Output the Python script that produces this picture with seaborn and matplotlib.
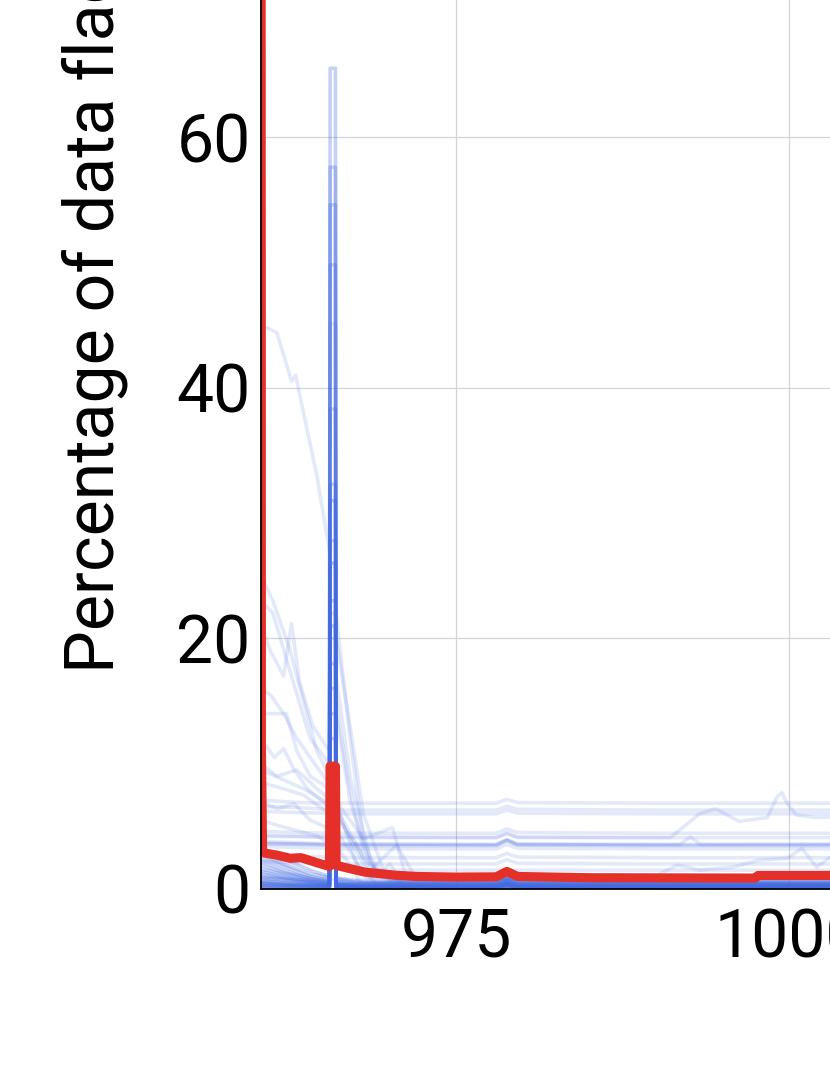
import matplotlib
matplotlib.use("Agg")
import matplotlib.pyplot as plt
import pandas as pd
import seaborn as sns

# ---------------- data ----------------
# wavelength knots shared by the nearly flat series
flat_x = [960.3, 963.0, 965.45, 965.95, 978.0, 978.8, 979.6, 990.0, 1005.0]
flat_a = [7.1, 6.9, 6.85, 6.85, 6.85, 7.15, 6.9, 6.85, 6.85]
flat_b = [6.6, 6.5, 6.35, 6.3, 6.3, 6.6, 6.35, 6.3, 6.3]
flat_c = [6.2, 6.1, 6.05, 6.0, 6.0, 6.3, 6.05, 6.0, 6.0]
flat_d = [4.6, 4.5, 4.45, 4.45, 4.45, 4.8, 4.5, 4.45, 4.45]
flat_e = [4.3, 4.2, 4.1, 4.1, 4.1, 4.5, 4.15, 4.1, 4.1]
flat_f = [3.8, 3.7, 3.6, 3.6, 3.55, 3.95, 3.6, 3.55, 3.6]
flat_g = [3.7, 3.6, 3.5, 3.5, 3.5, 3.9, 3.55, 3.5, 3.5]
flat_h = [3.6, 3.55, 3.5, 3.45, 3.45, 3.85, 3.5, 3.45, 3.45]
flat_i = [3.4, 3.3, 3.25, 3.2, 3.2, 3.55, 3.25, 3.2, 3.2]
flat_j = [2.7, 2.6, 2.55, 2.5, 2.5, 2.85, 2.55, 2.5, 2.5]
flat_k = [2.2, 2.1, 2.05, 2.0, 2.0, 2.35, 2.05, 2.0, 2.0]

# knots shared by the low series that carry the spike near 965.7
low_x = [960.3, 962.0, 964.0, 965.45, 965.5, 965.9, 965.95, 967.0, 968.0,
         970.0, 978.0, 978.8, 979.6, 1005.0]
low_a = [2.8, 2.0, 1.2, 0.9, 65.5, 65.5, 0.8, 0.6, 0.5, 0.5, 0.5, 0.8, 0.5, 0.5]
low_b = [2.2, 1.5, 0.8, 0.6, 57.6, 57.6, 0.5, 0.4, 0.4, 0.4, 0.4, 0.7, 0.4, 0.4]
low_c = [1.6, 1.2, 0.7, 0.5, 54.6, 54.6, 0.4, 0.35, 0.3, 0.3, 0.3, 0.55, 0.3, 0.3]
low_d = [1.2, 0.9, 0.6, 0.4, 49.8, 49.8, 0.35, 0.3, 0.25, 0.25, 0.25, 0.5, 0.25, 0.25]
low_e = [0.9, 0.7, 0.5, 0.35, 38.3, 38.3, 0.3, 0.25, 0.2, 0.2, 0.2, 0.45, 0.2, 0.2]
low_f = [0.7, 0.5, 0.4, 0.3, 32.3, 32.3, 0.25, 0.2, 0.15, 0.15, 0.15, 0.4, 0.15, 0.15]
low_g = [0.5, 0.4, 0.3, 0.25, 27.8, 27.8, 0.2, 0.15, 0.1, 0.1, 0.1, 0.35, 0.1, 0.1]
low_h = [0.4, 0.3, 0.25, 0.2, 23.0, 23.0, 0.15, 0.1, 0.1, 0.1, 0.1, 0.3, 0.1, 0.1]
low_i = [0.3, 0.25, 0.2, 0.15, 21.0, 21.0, 0.1, 0.1, 0.05, 0.05, 0.05, 0.25, 0.05, 0.05]
low_j = [0.2, 0.15, 0.1, 0.1, 18.0, 18.0, 0.1, 0.05, 0.05, 0.05, 0.05, 0.2, 0.05, 0.05]
low_k = [0.1, 0.1, 0.1, 0.05, 14.0, 14.0, 0.05, 0.0, 0.0, 0.0, 0.0, 0.15, 0.0, 0.0]
low_l = [0.05, 0.05, 0.0, 0.0, 10.0, 10.0, 0.0, 0.0, 0.0, 0.0, 0.0, 0.1, 0.0, 0.0]
low_m = [3.2, 2.4, 1.5, 1.0, 16.0, 16.0, 0.9, 0.7, 0.6, 0.6, 0.6, 0.9, 0.6, 0.6]
low_n = [2.5, 1.8, 1.0, 0.7, 12.0, 12.0, 0.6, 0.5, 0.45, 0.45, 0.45, 0.75, 0.45, 0.45]
low_o = [1.9, 1.3, 0.9, 0.55, 8.0, 8.0, 0.5, 0.4, 0.35, 0.35, 0.35, 0.6, 0.35, 0.35]
low_p = [1.4, 1.0, 0.6, 0.45, 6.0, 6.0, 0.4, 0.3, 0.3, 0.3, 0.3, 0.55, 0.3, 0.3]
low_q = [1.0, 0.8, 0.5, 0.35, 5.0, 5.0, 0.3, 0.25, 0.2, 0.2, 0.2, 0.45, 0.2, 0.2]
low_r = [0.6, 0.5, 0.35, 0.25, 4.0, 4.0, 0.2, 0.2, 0.15, 0.15, 0.15, 0.35, 0.15, 0.15]
low_s = [0.45, 0.35, 0.25, 0.2, 26.0, 26.0, 0.15, 0.1, 0.1, 0.1, 0.1, 0.3, 0.1, 0.1]
low_t = [0.25, 0.2, 0.15, 0.1, 31.0, 31.0, 0.1, 0.05, 0.05, 0.05, 0.05, 0.2, 0.05, 0.05]

# series that start high at the blue edge and decay
decay_a_x = [960.3, 961.5, 962.6, 962.9, 963.5, 964.5, 965.45, 965.5, 965.9, 965.95,
             967.0, 968.0, 969.0, 970.0, 978.0, 978.8, 979.6, 1005.0]
decay_a_y = [45.0, 44.4, 40.5, 41.0, 38.0, 33.0, 27.0, 45.1, 45.1, 22.0,
             12.0, 4.0, 1.2, 0.6, 0.6, 0.9, 0.6, 0.6]
decay_b_x = [960.3, 961.2, 962.5, 963.5, 964.5, 965.45, 965.5, 965.9, 965.95,
             967.0, 968.0, 969.5, 971.0, 1005.0]
decay_b_y = [25.0, 23.0, 19.0, 15.0, 11.0, 9.0, 31.0, 31.0, 20.0,
             13.0, 6.0, 1.5, 0.3, 0.3]
decay_c_x = [960.3, 961.0, 962.0, 962.6, 963.2, 964.2, 965.45, 965.5, 965.9, 965.95,
             967.0, 968.5, 970.0, 1005.0]
decay_c_y = [21.0, 19.0, 17.0, 21.2, 16.5, 13.0, 11.0, 26.0, 26.0, 17.0,
             9.0, 2.5, 0.7, 0.7]
decay_d_x = [960.3, 961.0, 962.0, 963.0, 964.0, 965.0, 965.45, 965.5, 965.9, 965.95,
             967.0, 968.5, 970.0, 1005.0]
decay_d_y = [16.0, 15.5, 14.0, 12.0, 10.5, 9.0, 8.5, 22.0, 22.0, 14.0,
             7.0, 2.0, 0.8, 0.8]
decay_e_x = [960.3, 962.2, 963.0, 964.0, 965.45, 965.95, 967.5, 969.0, 1005.0]
decay_e_y = [14.0, 14.0, 11.0, 9.0, 8.0, 7.0, 2.0, 0.4, 0.4]
decay_f_x = [960.3, 961.3, 962.0, 962.8, 963.8, 965.45, 965.95, 967.0, 968.5, 1005.0]
decay_f_y = [12.0, 10.5, 11.2, 9.5, 8.0, 6.5, 6.2, 4.0, 1.0, 1.0]
decay_g_x = [960.3, 961.5, 963.0, 964.5, 965.45, 965.95, 967.0, 968.0, 970.2, 971.2, 1005.0]
decay_g_y = [10.0, 9.0, 9.5, 8.0, 7.2, 7.0, 5.5, 4.0, 4.9, 1.0, 0.2]
decay_h_x = [960.3, 962.0, 963.5, 965.45, 965.95, 967.5, 968.5, 969.5, 970.5, 972.0, 1005.0]
decay_h_y = [8.5, 8.0, 7.5, 6.0, 5.8, 3.5, 1.5, 2.5, 3.5, 0.8, 0.8]
decay_i_x = [960.3, 961.2, 962.7, 964.0, 965.45, 965.5, 965.9, 965.95, 966.8, 968.0,
             969.0, 1005.0]
decay_i_y = [23.0, 22.0, 16.6, 12.0, 10.0, 20.0, 20.0, 15.0, 9.0, 3.0, 1.5, 1.5]
decay_j_x = [960.3, 961.5, 962.8, 964.0, 965.45, 965.95, 967.0, 968.2, 1005.0]
decay_j_y = [7.0, 6.4, 6.8, 5.5, 4.8, 4.6, 3.0, 0.9, 0.9]
decay_k_x = [960.3, 961.8, 963.2, 964.6, 965.45, 965.95, 966.8, 967.8, 1005.0]
decay_k_y = [5.5, 5.0, 4.6, 4.2, 3.6, 3.4, 2.2, 0.5, 0.5]
decay_l_x = [960.3, 962.0, 963.5, 965.45, 965.95, 968.0, 969.2, 970.0, 971.0, 1005.0]
decay_l_y = [9.5, 8.7, 8.0, 6.8, 6.5, 2.5, 1.2, 2.0, 0.4, 0.4]

# series that wander in the red part of the window
wander_a_x = [960.3, 978.0, 978.8, 979.6, 991.1, 993.3, 994.5, 996.3, 998.4, 999.1,
              999.5, 999.9, 1000.6, 1002.1, 1005.0]
wander_a_y = [4.2, 4.1, 4.4, 4.1, 4.1, 6.0, 6.4, 5.4, 5.7, 7.3,
              7.7, 6.8, 5.9, 5.7, 5.8]
wander_b_x = [960.3, 978.0, 978.8, 979.6, 991.8, 992.6, 993.4, 1005.0]
wander_b_y = [3.6, 3.55, 3.9, 3.55, 3.55, 4.15, 3.55, 3.55]
wander_c_x = [960.3, 978.0, 978.8, 979.6, 989.5, 990.5, 991.6, 992.4, 993.3, 995.8,
              997.8, 999.9, 1001.0, 1002.1, 1003.1, 1005.0]
wander_c_y = [0.8, 0.7, 1.0, 0.7, 0.7, 1.3, 1.9, 1.75, 1.5, 1.75,
              2.3, 2.45, 3.25, 1.75, 2.5, 2.5]

# mean curve (red)
mean_x = [960.3, 960.33, 960.42, 961.5, 962.5, 963.3, 964.5, 965.45, 965.5, 965.9,
          965.95, 966.5, 968.1, 970.4, 972.0, 975.0, 978.0, 978.8, 979.6, 985.0,
          997.5, 997.7, 1005.0]
mean_y = [100.0, 11.3, 2.9, 2.7, 2.45, 2.5, 2.1, 1.8, 9.8, 9.8,
          1.9, 1.75, 1.35, 1.1, 1.0, 0.95, 0.97, 1.4, 1.0, 0.9,
          0.87, 1.08, 1.08]

y_ticks = [0, 20, 40, 60, 80]
x_ticks = [975, 1000, 1025]
y_label = "Percentage of data flagged (%)"

# ---------------- assemble long tables ----------------
upper_sets = {
    "flat_a": (flat_x, flat_a), "flat_b": (flat_x, flat_b), "flat_c": (flat_x, flat_c),
    "flat_d": (flat_x, flat_d), "flat_e": (flat_x, flat_e), "flat_f": (flat_x, flat_f),
    "flat_g": (flat_x, flat_g), "flat_h": (flat_x, flat_h), "flat_i": (flat_x, flat_i),
    "flat_j": (flat_x, flat_j), "flat_k": (flat_x, flat_k),
    "decay_a": (decay_a_x, decay_a_y), "decay_b": (decay_b_x, decay_b_y),
    "decay_c": (decay_c_x, decay_c_y), "decay_d": (decay_d_x, decay_d_y),
    "decay_e": (decay_e_x, decay_e_y), "decay_f": (decay_f_x, decay_f_y),
    "decay_g": (decay_g_x, decay_g_y), "decay_h": (decay_h_x, decay_h_y),
    "decay_i": (decay_i_x, decay_i_y), "decay_j": (decay_j_x, decay_j_y),
    "decay_k": (decay_k_x, decay_k_y), "decay_l": (decay_l_x, decay_l_y),
    "wander_a": (wander_a_x, wander_a_y), "wander_b": (wander_b_x, wander_b_y),
    "wander_c": (wander_c_x, wander_c_y),
}
low_sets = {
    "low_a": low_a, "low_b": low_b, "low_c": low_c, "low_d": low_d, "low_e": low_e,
    "low_f": low_f, "low_g": low_g, "low_h": low_h, "low_i": low_i, "low_j": low_j,
    "low_k": low_k, "low_l": low_l, "low_m": low_m, "low_n": low_n, "low_o": low_o,
    "low_p": low_p, "low_q": low_q, "low_r": low_r, "low_s": low_s, "low_t": low_t,
}


def to_long(pairs):
    frames = [pd.DataFrame({"wavelength": xs, "flagged": ys, "series": name})
              for name, (xs, ys) in pairs.items()]
    return pd.concat(frames, ignore_index=True)


upper_df = to_long(upper_sets)
low_df = to_long({k: (low_x, v) for k, v in low_sets.items()})
mean_df = pd.DataFrame({"wavelength": mean_x, "flagged": mean_y})

# ---------------- figure ----------------
sns.set_theme(style="whitegrid")
plt.rcParams["font.family"] = ["Roboto", "DejaVu Sans"]

W_PX, H_PX = 830, 1075
fig = plt.figure(figsize=(W_PX / 100, H_PX / 100), dpi=100)
x_lim = (960.3, 1030.0)
y_lim = (0.0, 80.0)
px_x, px_y = 13.29, 12.53
ax_w = (x_lim[1] - x_lim[0]) * px_x
ax_h = (y_lim[1] - y_lim[0]) * px_y
ax = fig.add_axes([261 / W_PX, 186 / H_PX, ax_w / W_PX, ax_h / H_PX])

blue = "#4169E1"
sns.lineplot(data=upper_df, x="wavelength", y="flagged", units="series",
             estimator=None, sort=False, color=blue, alpha=0.14,
             linewidth=2.6, legend=False, ax=ax)
sns.lineplot(data=low_df, x="wavelength", y="flagged", units="series",
             estimator=None, sort=False, color=blue, alpha=0.3,
             linewidth=2.6, legend=False, ax=ax)
sns.lineplot(data=mean_df, x="wavelength", y="flagged", estimator=None,
             sort=False, color="#E5302A", linewidth=6.6, legend=False, ax=ax)

ax.set_xlim(*x_lim)
ax.set_ylim(*y_lim)
ax.set_xticks(x_ticks)
ax.set_yticks(y_ticks)
ax.set_xticklabels([str(t) for t in x_ticks])
ax.set_yticklabels([str(t) for t in y_ticks])
ax.set_axisbelow(True)
ax.grid(True, color="#d4d4da", linewidth=0.9)
ax.set_facecolor("white")
for s in ax.spines.values():
    s.set_color("black")
    s.set_linewidth(1.3)
ax.tick_params(direction="in", length=4, width=1, colors="black", labelsize=47.5)
ax.tick_params(axis="x", pad=13)
ax.tick_params(axis="y", pad=7.5)

ax.set_xlabel("")
ax.set_ylabel(y_label, fontsize=49, color="black", loc="bottom")
ax.yaxis.set_label_coords(129 / W_PX, (H_PX - 673) / H_PX, transform=fig.transFigure)

fig.savefig("out.png", dpi=100, facecolor="white")
